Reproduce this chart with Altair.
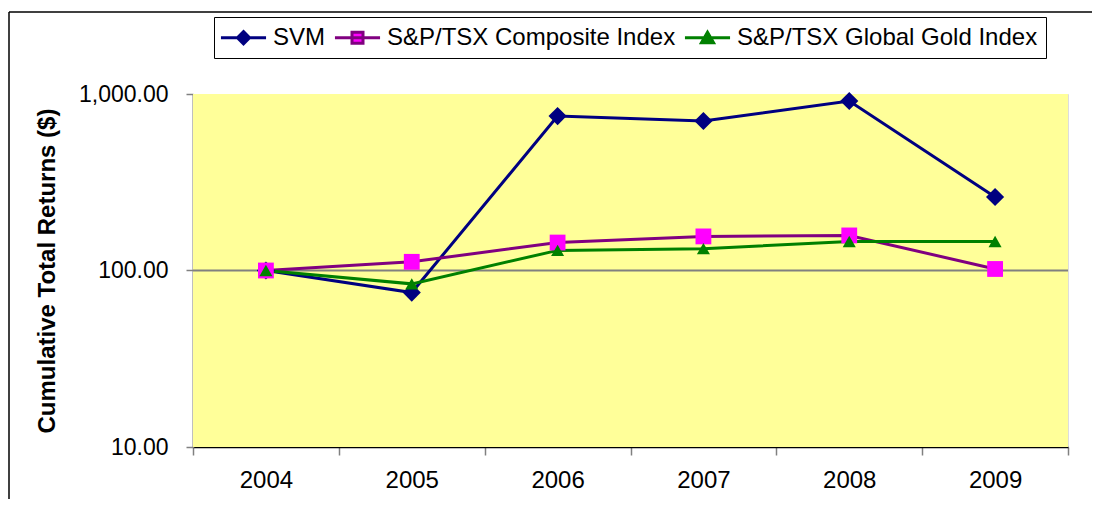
import altair as alt
import pandas as pd

years = ["2004", "2005", "2006", "2007", "2008", "2009"]
series_names = ["SVM", "S&P/TSX Composite Index", "S&P/TSX Global Gold Index"]
svm = [100, 75, 750, 703, 913, 261]
composite = [100, 112, 144, 156, 158, 102]
gold = [100, 84, 130, 133, 146, 146]
line_colors = ["#000080", "#800080", "#008000"]
marker_colors = ["#000080", "#FF00FF", "#008000"]
marker_shapes = ["diamond", "square", "triangle-up"]
marker_sizes = [330, 250, 170]
y_ticks = [10, 100, 1000]
y_title = "Cumulative Total Returns ($)"

rows = []
for name, vals in zip(series_names, [svm, composite, gold]):
    for yr, v in zip(years, vals):
        rows.append({"year": yr, "series": name, "value": v})
df = pd.DataFrame(rows)
one = pd.DataFrame({"k": [0]})

W, H = 875, 353
FONT = "Liberation Sans"

# legend symbols: a line with the series marker on it
legend_paths = [
    "M-2.05,0H2.05M0,-0.55L0.55,0L0,0.55L-0.55,0Z",
    "M-2.05,0H2.05M-0.5,-0.5H0.5V0.5H-0.5Z",
    "M-2.05,0H2.05M0,-0.5L0.55,0.45L-0.55,0.45Z",
]

legend = alt.Legend(
    title=None,
    orient="none",
    legendX=21,
    legendY=-77,
    direction="horizontal",
    symbolStrokeWidth=3,
    symbolSize=484,
    symbolOpacity=1,
    symbolOffset=9,
    labelFont=FONT,
    labelFontSize=24,
    labelColor="black",
    labelOffset=17,
    labelLimit=500,
    columnPadding=2,
    padding=8,
    strokeColor="black",
    fillColor="white",
)

x_enc = alt.X(
    "year:N",
    sort=years,
    scale=alt.Scale(type="band", paddingInner=0, paddingOuter=0),
    axis=alt.Axis(
        title=None,
        labelAngle=0,
        tickBand="extent",
        tickSize=8,
        tickColor="#808080",
        tickWidth=1.5,
        domainColor="black",
        domainWidth=1.5,
        labelFont=FONT,
        labelFontSize=24,
        labelColor="black",
        labelPadding=13,
    ),
)
y_enc = alt.Y(
    "value:Q",
    scale=alt.Scale(type="log", domain=[10, 1000], nice=False),
    axis=alt.Axis(
        values=y_ticks,
        format=",.2f",
        title=y_title,
        grid=False,
        tickSize=7,
        tickColor="#808080",
        tickWidth=1.5,
        domainColor="#808080",
        domainWidth=2,
        labelFont=FONT,
        labelFontSize=23,
        labelColor="black",
        labelPadding=18,
        titleFont=FONT,
        titleFontSize=24,
        titleFontWeight="bold",
        titleColor="black",
        titlePadding=19,
    ),
)

background = alt.Chart(one).mark_rect(color="#FFFF99").encode(
    y=alt.datum(10), y2=alt.datum(1000)
)

grid = alt.Chart(one).mark_rule(color="#808080", strokeWidth=2).encode(y=alt.datum(100))

lines = alt.Chart(df).mark_line(strokeWidth=3).encode(
    x=x_enc,
    y=y_enc,
    stroke=alt.Stroke(
        "series:N",
        scale=alt.Scale(domain=series_names, range=line_colors),
        legend=None,
    ),
    order=alt.Order("year:N"),
)

point_layers = []
for name, shp, sz in zip(series_names, marker_shapes, marker_sizes):
    point_layers.append(
        alt.Chart(df)
        .transform_filter(alt.datum.series == name)
        .mark_point(shape=shp, filled=True, size=sz, opacity=1)
        .encode(
            x=alt.X("year:N", sort=years),
            y=alt.Y("value:Q"),
            fill=alt.Fill(
                "series:N",
                scale=alt.Scale(domain=series_names, range=marker_colors),
                legend=None,
            ),
        )
    )

# legend-only layer (draws no marks in the plot)
legend_layer = (
    alt.Chart(df)
    .transform_filter("false")
    .mark_point(filled=True, opacity=1, strokeWidth=3)
    .encode(
        shape=alt.Shape(
            "series:N",
            scale=alt.Scale(domain=series_names, range=legend_paths),
            legend=legend,
        ),
        fill=alt.Fill(
            "series:N",
            scale=alt.Scale(domain=series_names, range=marker_colors),
            legend=legend,
        ),
        stroke=alt.Stroke(
            "series:N",
            scale=alt.Scale(domain=series_names, range=line_colors),
            legend=legend,
        ),
    )
)

frame_top = alt.Chart(one).mark_rule(color="black", strokeWidth=1.5).encode(
    x=alt.value(-184), x2=alt.value(1000), y=alt.value(-82)
)
frame_left = alt.Chart(one).mark_rule(color="black", strokeWidth=1.5).encode(
    x=alt.value(-184), y=alt.value(-82), y2=alt.value(600)
)

chart = (
    alt.layer(background, grid, lines, *point_layers, legend_layer, frame_top, frame_left)
    .resolve_scale(fill="independent", stroke="independent", shape="independent")
    .properties(
        width=W,
        height=H,
        autosize=alt.AutoSizeParams(type="none"),
        padding={"left": 185, "top": 86, "right": 24, "bottom": 52},
        background="white",
    )
    .configure_view(stroke=None)
    .configure(font=FONT)
)

chart.save("out.html", embed_options={"renderer": "svg", "actions": False})
